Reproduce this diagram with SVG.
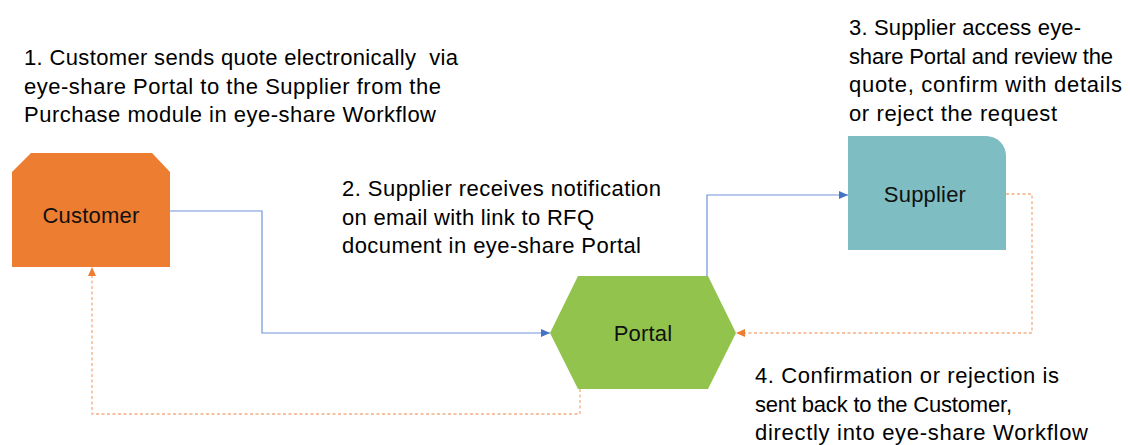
<svg xmlns="http://www.w3.org/2000/svg" width="1130" height="445" viewBox="0 0 1130 445">
  <style>
    .t { font-family: "Liberation Sans", Arial, sans-serif; font-size: 22px; fill: #000; white-space: pre; }
    .lbl { font-family: "Liberation Sans", Arial, sans-serif; font-size: 22px; letter-spacing: 0.2px; fill: #111; text-anchor: middle; }
    .blue { fill: none; stroke: #6F94DC; stroke-width: 1.2; }
    .orange { fill: none; stroke: #F4AE82; stroke-width: 1.3; stroke-dasharray: 3 2.5; }
  </style>
  <defs>
    <marker id="ab" markerWidth="10" markerHeight="10" refX="9" refY="5" orient="auto" markerUnits="userSpaceOnUse">
      <path d="M0,1 L9,5 L0,9 Z" fill="#4472C4"/>
    </marker>
    <marker id="ao" markerWidth="10" markerHeight="10" refX="9" refY="5" orient="auto" markerUnits="userSpaceOnUse">
      <path d="M0,1 L9,5 L0,9 Z" fill="#ED7D31"/>
    </marker>
  </defs>
  <rect width="1130" height="445" fill="#fff"/>

  <g id="connectors">
    <path class="blue" d="M170,211 H262 V333 H550" marker-end="url(#ab)"/>
    <path class="blue" d="M707,276 V195 H848" marker-end="url(#ab)"/>
    <path class="orange" d="M1006,194 H1032 V333 H736" marker-end="url(#ao)"/>
    <path class="orange" d="M580,389 V414 H92 V267" marker-end="url(#ao)"/>
  </g>

  <g id="customer">
    <polygon points="31,153 152,153 170,172 170,267 12,267 12,172" fill="#ED7D31"/>
    <text class="lbl" x="91" y="223">Customer</text>
  </g>

  <g id="portal">
    <polygon points="578,276 708,276 736,333 708,389 578,389 550,333" fill="#92C44D"/>
    <text class="lbl" x="643" y="341">Portal</text>
  </g>

  <g id="supplier">
    <path d="M848,136 H986 A20,20 0 0 1 1006,156 V250 H848 Z" fill="#7EBDC2"/>
    <text class="lbl" x="925" y="202">Supplier</text>
  </g>

  <g id="note1">
    <text class="t" x="24" y="65" xml:space="preserve" textLength="434" lengthAdjust="spacing">1. Customer sends quote electronically  via</text>
    <text class="t" x="24" y="93.5" textLength="417" lengthAdjust="spacing">eye-share Portal to the Supplier from the</text>
    <text class="t" x="24" y="122" textLength="412" lengthAdjust="spacing">Purchase module in eye-share Workflow</text>
  </g>
  <g id="note2">
    <text class="t" x="342" y="196" textLength="319" lengthAdjust="spacing">2. Supplier receives notification</text>
    <text class="t" x="342" y="224.5" textLength="252" lengthAdjust="spacing">on email with link to RFQ</text>
    <text class="t" x="342" y="253" textLength="299" lengthAdjust="spacing">document in eye-share Portal</text>
  </g>
  <g id="note3">
    <text class="t" x="849" y="35" textLength="232" lengthAdjust="spacing">3. Supplier access eye-</text>
    <text class="t" x="849" y="63.5" textLength="264" lengthAdjust="spacing">share Portal and review the</text>
    <text class="t" x="849" y="92" textLength="273" lengthAdjust="spacing">quote, confirm with details</text>
    <text class="t" x="849" y="120.5" textLength="208" lengthAdjust="spacing">or reject the request</text>
  </g>
  <g id="note4">
    <text class="t" x="755" y="383" textLength="304" lengthAdjust="spacing">4. Confirmation or rejection is</text>
    <text class="t" x="755" y="411.5" textLength="257" lengthAdjust="spacing">sent back to the Customer,</text>
    <text class="t" x="755" y="440" textLength="333" lengthAdjust="spacing">directly into eye-share Workflow</text>
  </g>
</svg>
